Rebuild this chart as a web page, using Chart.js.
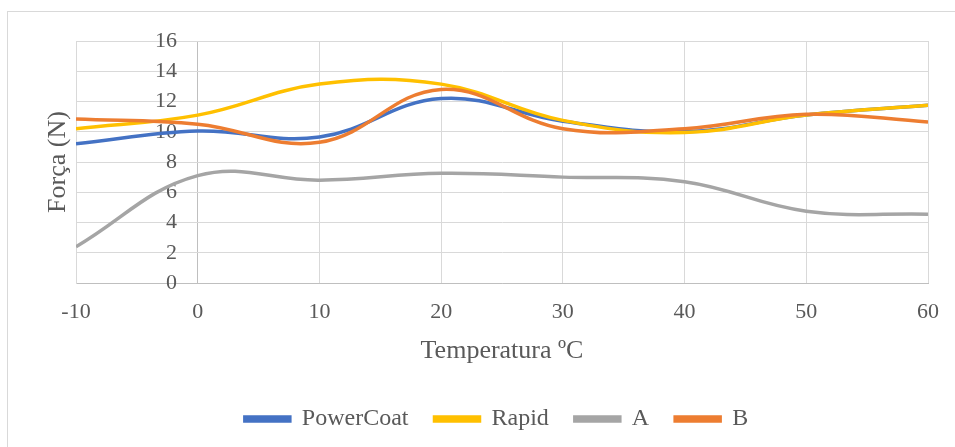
<!DOCTYPE html>
<html>
<head>
<meta charset="utf-8">
<script src="https://cdn.jsdelivr.net/npm/chart.js@4/dist/chart.umd.min.js"></script>
<style>
  html, body { margin: 0; padding: 0; background: #fff; overflow: hidden; }
  #frame {
    position: absolute; left: 7px; top: 11px;
    width: 1000px; height: 500px;
    border: 1px solid #d9d9d9;
  }
  #force-chart { position: absolute; left: 0; top: 0; }
</style>
</head>
<body>
<div id="frame"></div>
<canvas id="force-chart" width="955" height="447"></canvas>
<script>
  // temperaturas medidas (ºC)
  const temps = [-10, 0, 10, 20, 30, 40, 50, 60];

  // força medida por produto (N)
  const powerCoat = [9.2, 10.05, 9.65, 12.2, 10.7, 10.0, 11.1, 11.75];
  const rapid = [10.2, 11.1, 13.15, 13.15, 10.75, 9.95, 11.1, 11.75];
  const produtoA = [2.4, 7.1, 6.8, 7.25, 7.0, 6.7, 4.75, 4.55];
  const produtoB = [10.85, 10.5, 9.3, 12.8, 10.2, 10.2, 11.15, 10.65];

  const seriesNames = ["PowerCoat", "Rapid", "A", "B"];
  const seriesColors = ["#4472C4", "#FFC000", "#A5A5A5", "#ED7D31"];

  const serif = "'Liberation Serif', 'Times New Roman', serif";
  const textColor = "#595959";
  const gridColor = "#d9d9d9";

  const toPoints = (values) => values.map((v, i) => ({ x: temps[i], y: v }));

  const chartData = {
    datasets: [powerCoat, rapid, produtoA, produtoB].map((values, i) => ({
      label: seriesNames[i],
      data: toPoints(values),
      borderColor: seriesColors[i],
      backgroundColor: seriesColors[i],
      borderWidth: 3.5,
      pointRadius: 0,
      tension: 0.4,
      // later series are painted on top
      order: 4 - i,
    })),
  };

  const chartOptions = {
    responsive: false,
    animation: false,
    layout: {
      padding: { left: 65, right: 27, top: 41, bottom: 6 },
    },
    scales: {
      x: {
        type: "linear",
        min: -10,
        max: 60,
        ticks: {
          stepSize: 10,
          padding: 16,
          color: textColor,
          font: { family: serif, size: 22 },
        },
        // the value axis crosses at 0 ºC, drawn a bit darker
        grid: {
          color: (ctx) => (ctx.tick && ctx.tick.value === 0 ? "#bfbfbf" : gridColor),
          drawTicks: false,
        },
        border: { color: "#bfbfbf" },
        title: {
          display: true,
          text: "Temperatura ºC",
          color: textColor,
          font: { family: serif, size: 26 },
          padding: { top: 0, bottom: 14 },
        },
        afterFit: (scale) => {
          scale.height = 98;
        },
      },
      y: {
        min: 0,
        max: 16,
        position: "left",
        ticks: {
          stepSize: 2,
          autoSkip: false,
          // mirrored into the plot so the labels sit left of the 0 ºC line
          mirror: true,
          crossAlign: "far",
          padding: 79,
          color: textColor,
          font: { family: serif, size: 22 },
        },
        grid: { color: gridColor, drawTicks: false },
        border: { color: gridColor },
        title: {
          display: true,
          text: "Força (N)",
          color: textColor,
          font: { family: serif, size: 26 },
          padding: { top: -22.5, bottom: 0 },
        },
        afterFit: (scale) => {
          scale.width = 11;
          // the big tick padding should not push the plot down
          scale.paddingTop = 0;
          scale.paddingBottom = 0;
        },
      },
    },
    plugins: {
      legend: {
        display: true,
        position: "bottom",
        labels: {
          boxWidth: 45,
          boxHeight: 4,
          padding: 26,
          color: textColor,
          font: { family: serif, size: 24 },
          sort: (a, b) => a.datasetIndex - b.datasetIndex,
        },
      },
      tooltip: { enabled: false },
    },
  };

  new Chart(document.getElementById("force-chart"), {
    type: "line",
    data: chartData,
    options: chartOptions,
  });
</script>
</body>
</html>
